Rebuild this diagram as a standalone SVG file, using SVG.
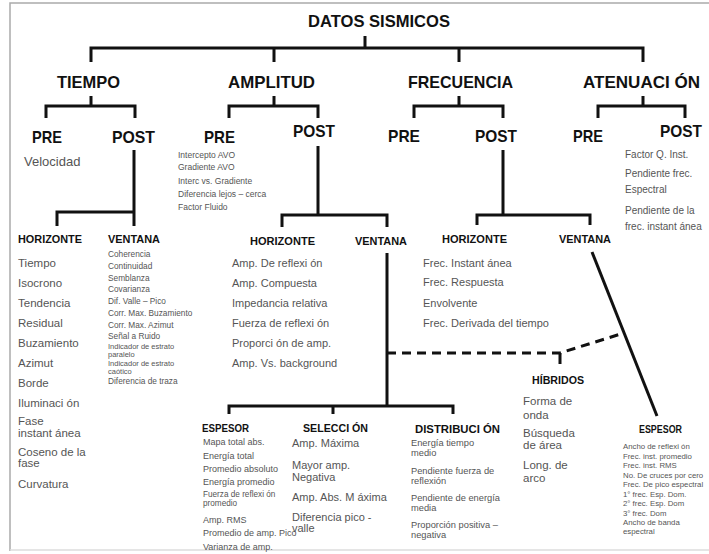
<svg xmlns="http://www.w3.org/2000/svg" width="709" height="554" viewBox="0 0 709 554">
<style>
.h{font-family:"Liberation Sans",Arial,sans-serif;font-weight:bold;fill:#111}
.t1{font-size:17px}
.t2{font-size:10.5px}
.l{font-family:"Liberation Sans",Arial,sans-serif;fill:#555}
.ln{fill:none;stroke:#111;stroke-width:3;stroke-linejoin:miter}
.d{fill:none;stroke:#111;stroke-width:3;stroke-dasharray:9 6}
</style>
<rect x="0" y="0" width="709" height="554" fill="#fff"/>
<path d="M10,551 V3 H709" fill="none" stroke="#aaa" stroke-width="1.5"/>
<path d="M10,550 H709" fill="none" stroke="#ddd" stroke-width="1.5"/>

<g id="connectors">
<path class="ln" d="M365,36 V48 M91,62 V48 H643 V62 M274,48 V62 M459,48 V62"/>
<path class="ln" d="M91,96 V106 M46,118 V106 H135 V118"/>
<path class="ln" d="M274,96 V106 M229,118 V106 H318 V118"/>
<path class="ln" d="M459,96 V106 M414,118 V106 H503 V118"/>
<path class="ln" d="M643,96 V106 M598,118 V106 H685 V118"/>
<path class="ln" d="M134,150 V226 M57,226 V212 H134"/>
<path class="ln" d="M318,146 V215 M282,227 V215 H387 V227"/>
<path class="ln" d="M503,150 V215 M477,225 V215 H590 V225"/>
<path class="ln" d="M387,253 V406 M229,414 V406 H453 V414 M333,406 V414"/>
<path class="ln" d="M592,252 L657,416"/>
<path class="d" d="M387,353 H560 L624,333"/>
<path class="ln" d="M560,353 V364"/>
</g>

<g id="root"><text class="h t1" x="308" y="27" textLength="142" lengthAdjust="spacingAndGlyphs">DATOS SISMICOS</text></g>

<g id="tiempo">
<text class="h t1" x="57" y="88" textLength="63" lengthAdjust="spacingAndGlyphs">TIEMPO</text>
</g>
<g id="amplitud">
<text class="h t1" x="228" y="88" textLength="87" lengthAdjust="spacingAndGlyphs">AMPLITUD</text>
</g>
<g id="frecuencia">
<text class="h t1" x="408" y="88" textLength="105" lengthAdjust="spacingAndGlyphs">FRECUENCIA</text>
</g>
<g id="atenuacion">
<text class="h t1" x="583" y="88" textLength="117" lengthAdjust="spacingAndGlyphs">ATENUACI ÓN</text>
</g>

<g id="tiempo-pre">
<text class="h t1" x="32" y="143" textLength="30" lengthAdjust="spacingAndGlyphs">PRE</text>
<text class="l" x="24" y="166" font-size="13">Velocidad</text>
</g>
<g id="tiempo-post"><text class="h t1" x="112" y="143" textLength="43" lengthAdjust="spacingAndGlyphs">POST</text></g>

<g id="amplitud-pre">
<text class="h t1" x="204" y="143" textLength="31" lengthAdjust="spacingAndGlyphs">PRE</text>
<g class="l" font-size="8.5">
<text x="178" y="158">Intercepto AVO</text>
<text x="178" y="170">Gradiente AVO</text>
<text x="178" y="184">Interc vs. Gradiente</text>
<text x="178" y="197">Diferencia lejos – cerca</text>
<text x="178" y="210">Factor Fluido</text>
</g>
</g>
<g id="amplitud-post"><text class="h t1" x="293" y="137" textLength="42" lengthAdjust="spacingAndGlyphs">POST</text></g>

<g id="frecuencia-pre"><text class="h t1" x="388" y="142" textLength="32" lengthAdjust="spacingAndGlyphs">PRE</text></g>
<g id="frecuencia-post"><text class="h t1" x="475" y="142" textLength="42" lengthAdjust="spacingAndGlyphs">POST</text></g>

<g id="atenuacion-pre"><text class="h t1" x="573" y="142" textLength="30" lengthAdjust="spacingAndGlyphs">PRE</text></g>
<g id="atenuacion-post">
<text class="h t1" x="660" y="137" textLength="42" lengthAdjust="spacingAndGlyphs">POST</text>
<g class="l" font-size="10">
<text x="625" y="158">Factor Q.  Inst.</text>
<text x="625" y="177">Pendiente  frec.</text>
<text x="625" y="193">Espectral</text>
<text x="625" y="214">Pendiente de la</text>
<text x="625" y="230">frec. instant ánea</text>
</g>
</g>

<g id="tiempo-horizonte">
<text class="h t2" x="18" y="243" textLength="64" lengthAdjust="spacingAndGlyphs">HORIZONTE</text>
<g class="l" font-size="11.5">
<text x="18" y="267">Tiempo</text>
<text x="18" y="287">Isocrono</text>
<text x="18" y="307">Tendencia</text>
<text x="18" y="327">Residual</text>
<text x="18" y="347">Buzamiento</text>
<text x="18" y="367">Azimut</text>
<text x="18" y="387">Borde</text>
<text x="18" y="407">Iluminaci ón</text>
<text x="18" y="425">Fase</text>
<text x="18" y="437">instant ánea</text>
<text x="18" y="456">Coseno de la</text>
<text x="18" y="467">fase</text>
<text x="18" y="488">Curvatura</text>
</g>
</g>
<g id="tiempo-ventana">
<text class="h t2" x="108" y="243" textLength="52" lengthAdjust="spacingAndGlyphs">VENTANA</text>
<g class="l" font-size="8.3">
<text x="108" y="257">Coherencia</text>
<text x="108" y="269">Continuidad</text>
<text x="108" y="281">Semblanza</text>
<text x="108" y="292">Covarianza</text>
<text x="108" y="304">Dif. Valle – Pico</text>
<text x="108" y="316">Corr. Max. Buzamiento</text>
<text x="108" y="328">Corr. Max. Azimut</text>
<text x="108" y="339">Señal a Ruido</text>
</g>
<g class="l" font-size="7.5">
<text x="108" y="348.5">Indicador de estrato</text>
<text x="108" y="356.5">paralelo</text>
<text x="108" y="365.5">Indicador de estrato</text>
<text x="108" y="373.5">caótico</text>
</g>
<g class="l" font-size="8.3">
<text x="108" y="384">Diferencia de traza</text>
</g>
</g>

<g id="amplitud-horizonte">
<text class="h t2" x="250" y="245" textLength="65" lengthAdjust="spacingAndGlyphs">HORIZONTE</text>
<g class="l" font-size="11">
<text x="232" y="267">Amp. De reflexi ón</text>
<text x="232" y="287">Amp. Compuesta</text>
<text x="232" y="307">Impedancia relativa</text>
<text x="232" y="327">Fuerza de reflexi  ón</text>
<text x="232" y="347">Proporci ón de amp.</text>
<text x="232" y="367">Amp. Vs. background</text>
</g>
</g>
<g id="amplitud-ventana"><text class="h t2" x="355" y="245" textLength="52" lengthAdjust="spacingAndGlyphs">VENTANA</text></g>

<g id="frecuencia-horizonte">
<text class="h t2" x="442" y="243" textLength="65" lengthAdjust="spacingAndGlyphs">HORIZONTE</text>
<g class="l" font-size="11">
<text x="423" y="267">Frec. Instant ánea</text>
<text x="423" y="286">Frec. Respuesta</text>
<text x="423" y="307">Envolvente</text>
<text x="423" y="327">Frec. Derivada del tiempo</text>
</g>
</g>
<g id="frecuencia-ventana"><text class="h t2" x="559" y="243" textLength="52" lengthAdjust="spacingAndGlyphs">VENTANA</text></g>

<g id="hibridos">
<text class="h t2" x="532" y="384" textLength="52" lengthAdjust="spacingAndGlyphs">HÍBRIDOS</text>
<g class="l" font-size="11.5">
<text x="523" y="405">Forma de</text>
<text x="523" y="419">onda</text>
<text x="523" y="437">Búsqueda</text>
<text x="523" y="449">de área</text>
<text x="523" y="469">Long. de</text>
<text x="523" y="482">arco</text>
</g>
</g>

<g id="amplitud-espesor">
<text class="h t2" x="202" y="432" textLength="47" lengthAdjust="spacingAndGlyphs">ESPESOR</text>
<g class="l" font-size="9">
<text x="203" y="445">Mapa total abs.</text>
<text x="203" y="459">Energía total</text>
<text x="203" y="472">Promedio absoluto</text>
<text x="203" y="485">Energía promedio</text>
</g>
<g class="l" font-size="8.2">
<text x="203" y="497">Fuerza de reflexi ón</text>
<text x="203" y="506">promedio</text>
</g>
<g class="l" font-size="9">
<text x="203" y="523">Amp. RMS</text>
<text x="203" y="536">Promedio de amp. Pico</text>
<text x="203" y="550">Varianza de amp.</text>
</g>
</g>

<g id="seleccion">
<text class="h t2" x="303" y="432" textLength="65" lengthAdjust="spacingAndGlyphs">SELECCI ÓN</text>
<g class="l" font-size="11">
<text x="292" y="447">Amp. Máxima</text>
<text x="292" y="469">Mayor amp.</text>
<text x="292" y="481">Negativa</text>
<text x="292" y="501">Amp. Abs. M áxima</text>
<text x="292" y="521">Diferencia pico  -</text>
<text x="292" y="532">valle</text>
</g>
</g>

<g id="distribucion">
<text class="h t2" x="415" y="433" textLength="85" lengthAdjust="spacingAndGlyphs">DISTRIBUCI ÓN</text>
<g class="l" font-size="9.3">
<text x="411" y="446">Energía tiempo</text>
<text x="411" y="456">medio</text>
<text x="411" y="474">Pendiente fuerza de</text>
<text x="411" y="484">reflexión</text>
<text x="411" y="501">Pendiente de energía</text>
<text x="411" y="511">media</text>
<text x="411" y="528">Proporción positiva –</text>
<text x="411" y="538">negativa</text>
</g>
</g>

<g id="frecuencia-espesor">
<text class="h t2" x="639" y="433" textLength="43" lengthAdjust="spacingAndGlyphs">ESPESOR</text>
<g class="l" font-size="7.8">
<text x="623" y="449">Ancho de reflexi ón</text>
<text x="623" y="458.5">Frec. inst. promedio</text>
<text x="623" y="468">Frec. inst. RMS</text>
<text x="623" y="477.5">No. De cruces por cero</text>
<text x="623" y="487">Frec. De pico espectral</text>
<text x="623" y="496.5">1° frec. Esp. Dom.</text>
<text x="623" y="506">2° frec. Esp. Dom</text>
<text x="623" y="515.5">3° frec. Dom</text>
<text x="623" y="525">Ancho de banda</text>
<text x="623" y="534">espectral</text>
</g>
</g>
</svg>
